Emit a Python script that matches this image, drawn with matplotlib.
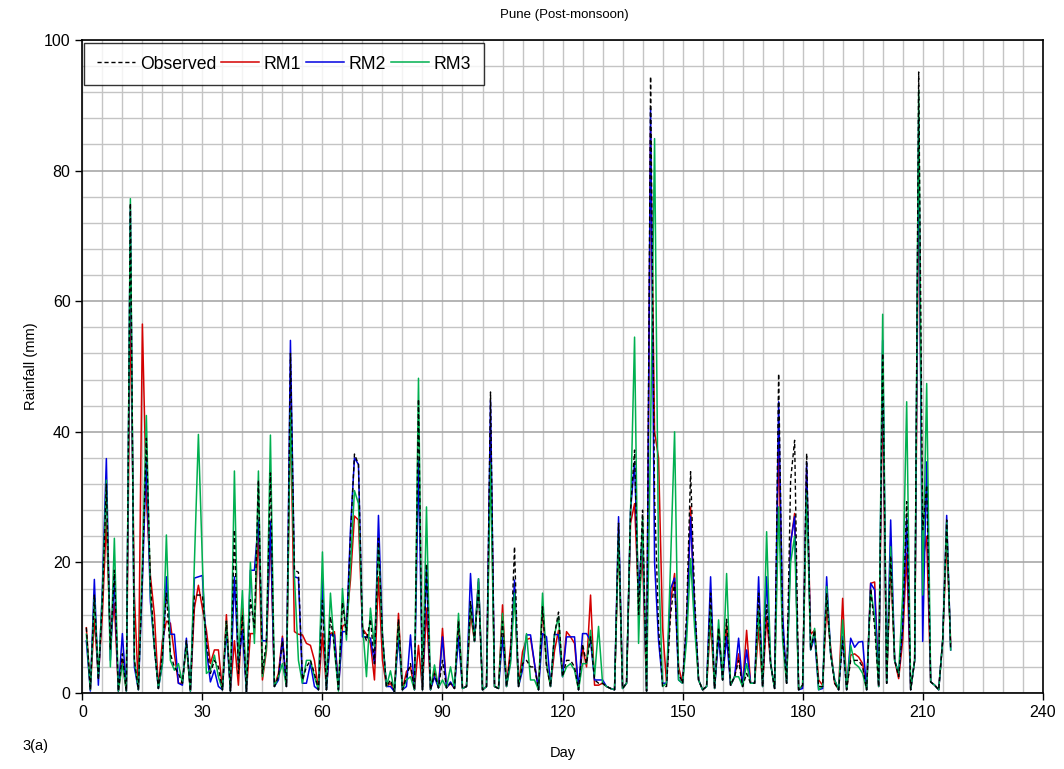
import numpy as np
import matplotlib.pyplot as plt
from matplotlib.ticker import MultipleLocator

plt.rcParams['font.family'] = ['Liberation Sans', 'DejaVu Sans']

# Daily rainfall (mm), days 1..217
observed = [
    10, 0.5, 15, 2, 14, 32, 6.6, 18.8, 0.3, 6, 0.3, 75, 5, 0.5, 18, 39, 17, 7, 0.7, 6,
    15.3, 6, 4, 3, 1.5, 8, 0.3, 15, 15, 15,
    8, 3, 5, 4, 0.5, 11, 0.3, 25, 3, 12, 0.2, 14.3, 10, 32.6, 3, 8, 33.7, 1, 2.5, 8,
    1, 52, 18.8, 18.5, 2, 4, 5, 3, 0.5, 14.2,
    0.5, 11.7, 7, 0.5, 13.9, 9, 24, 36.6, 35, 9.9, 8, 11.3, 4.5, 23.7, 8.7, 1, 2, 0.2, 11.3, 0.5,
    2.5, 4.5, 0.5, 45, 0.5, 19.8, 0.5, 3, 0.8, 5,
    0.8, 1.5, 0.7, 11, 0.7, 1, 14, 8, 16, 0.5, 1, 46.1, 1, 0.7, 11, 1, 6, 22.4, 1, 4.5,
    5, 4, 4, 0.5, 13.2, 4, 1, 9, 12.4, 2.5,
    5, 5, 4, 0.5, 7.5, 4.5, 8.6, 2, 1.5, 1.5, 1, 0.7, 0.5, 26, 0.7, 1.5, 28, 37.2, 12, 28,
    0.3, 94.4, 30, 10, 1, 1, 12, 17, 3, 1.5,
    12, 33.9, 14.7, 2, 0.5, 1, 15.3, 0.7, 10, 2, 11.3, 1.2, 2.5, 5, 1, 3, 1.5, 1.5, 15.3, 1,
    13.5, 4.5, 0.7, 48.9, 10, 1.5, 32.6, 38.7, 0.5, 1.2,
    36.7, 6.6, 9.6, 1, 1, 15.3, 6, 1.5, 0.5, 8, 0.5, 5, 5, 5, 4, 0.5, 16, 10, 1, 52,
    1.5, 21, 5, 2.5, 10, 29.3, 0.5, 5, 95.1, 25, 31.8, 1.7, 1.2, 0.5, 8, 26.5, 6.6,
]
rm1 = [
    10, 0.5, 11.4, 2.5, 12, 26.5, 8, 13.7, 0.3, 5, 0.3, 60, 15, 0.5, 56.5, 30, 18, 12, 0.7, 8,
    11, 10.7, 6, 1.5, 1.5, 7.5, 0.3, 13, 16.5, 13,
    9.6, 4.5, 6.6, 6.6, 0.5, 12, 0.3, 8, 1.2, 13, 0.2, 9.1, 9.1, 25, 2, 6.5, 25, 1, 3, 8.7,
    1, 43.8, 9.4, 9, 8.9, 7.6, 7.3, 5, 0.5, 9.1,
    0.5, 9.1, 9.4, 0.7, 10.2, 10.7, 17.3, 27.1, 26.5, 9.9, 9, 7.6, 2, 17.8, 5, 1, 1.5, 0.2, 12.2, 0.5,
    3.3, 4, 0.5, 7.3, 0.5, 13, 0.5, 3.5, 0.8, 9.9,
    0.8, 1.5, 0.7, 11.2, 0.7, 1, 12.2, 7.9, 17, 0.5, 1, 40, 1, 0.7, 13.5, 1, 7, 15.8, 1, 6.3,
    8.2, 8.4, 4.5, 0.5, 13.2, 4.5, 1, 6.5, 9.6, 3,
    9.4, 8.6, 7.6, 0.5, 7, 4, 15, 1.2, 1.2, 1.5, 1, 0.7, 0.5, 24, 0.7, 1.5, 26, 29, 14, 21,
    0.3, 86, 40, 36, 10, 1.5, 14, 18.3, 4, 1.5,
    10, 28.5, 12, 2, 0.5, 1, 11, 0.7, 9.8, 2, 10.4, 1.2, 2.5, 6, 1, 9.6, 1.5, 1.5, 10, 1,
    11.7, 4.5, 0.7, 38.5, 10, 1.5, 23, 27.5, 0.5, 1,
    34, 9, 9.6, 2, 1.2, 13.2, 7, 1.5, 0.5, 14.5, 0.5, 5.8, 6, 5.5, 4.5, 0.5, 16.8, 17, 1, 47.5,
    1.5, 20, 5, 2.2, 8, 21.4, 0.5, 5, 80, 20, 24, 1.7, 1.2, 0.5, 8, 23.6, 7.6,
]
rm2 = [
    8, 0.3, 17.4, 1.2, 16, 35.9, 5, 17.8, 0.3, 9.1, 0.3, 74, 4, 0.5, 17, 36, 14, 7, 0.7, 4.5,
    17.8, 9, 9, 1.5, 1.2, 8.4, 0.3, 17.6, 17.8, 18,
    6.6, 1.7, 3.5, 1, 0.5, 9.6, 0.3, 17.8, 4.5, 9.6, 0.2, 18.8, 18.8, 26.5, 8, 8, 26.3, 1, 2, 8.4,
    1, 54, 17.8, 17.6, 1.5, 1.5, 4.5, 1, 0.5, 17.6,
    0.5, 8.9, 8.9, 0.5, 9.4, 9.4, 25, 36, 35, 8.6, 8.6, 8.4, 4.5, 27.2, 8.7, 1, 1, 0.2, 8.6, 0.5,
    1, 8.9, 0.5, 35.7, 0.5, 19.3, 0.5, 2.5, 0.8, 8.6,
    0.8, 1.7, 0.7, 8.6, 0.7, 1, 18.3, 7.9, 17.5, 0.5, 1, 44.8, 1, 0.7, 8.6, 1, 5, 17.3, 1, 3.5,
    8.9, 8.9, 4.5, 0.5, 9.1, 8.6, 1, 9, 8.9, 2.5,
    8.6, 8.6, 8.6, 0.5, 9.1, 9.1, 8, 2, 2, 2, 1, 0.7, 0.5, 27, 0.7, 1.5, 28, 35.4, 15, 25,
    0.3, 89.5, 20, 8, 1.5, 1.5, 16, 17.6, 2, 1.5,
    10, 27, 13, 2, 0.5, 1, 17.8, 0.7, 8.6, 2, 8.6, 1.2, 2.5, 8.4, 1, 6.6, 1.5, 1.5, 17.8, 1,
    17.8, 4.5, 0.7, 44.6, 12, 1.5, 23, 27, 0.5, 0.7,
    35.4, 6.6, 8.6, 0.5, 0.7, 17.8, 6, 2, 0.5, 8.7, 0.5, 8.4, 7, 7.8, 7.9, 0.5, 16.8, 15.8, 1, 54,
    1.5, 26.5, 5, 3, 10, 26.7, 0.5, 5, 88, 7.9, 35.4, 1.7, 1.2, 0.5, 8, 27.2, 6.6,
]
rm3 = [
    9, 0.5, 14.7, 2.5, 15, 32.6, 4, 23.7, 0.3, 4.5, 0.3, 75.7, 5, 0.5, 20, 42.5, 15, 7, 0.7, 4.5,
    24.2, 5, 3.5, 4.5, 1.5, 7.6, 0.3, 20, 39.6, 20,
    3, 3.5, 5.8, 2.5, 0.5, 11, 0.3, 34, 4.5, 15.7, 0.2, 20, 7.6, 34, 2.5, 7, 39.5, 1, 2.5, 4.5,
    1, 43.3, 17.8, 5, 1.5, 5, 5, 2.5, 0.5, 21.6,
    0.5, 15.3, 6.6, 0.3, 16, 8.1, 19.7, 31, 29, 10.7, 2.5, 13, 7, 22.4, 8.7, 1, 3.4, 0.2, 10.6, 0.5,
    2, 2.5, 0.5, 48.2, 0.5, 28.5, 0.5, 4.3, 0.8, 2,
    0.8, 4, 0.7, 12.2, 0.7, 1, 13.7, 7.9, 17.5, 0.5, 1, 35.2, 1, 0.7, 12.2, 1, 4.5, 15.3, 1, 4.5,
    9.1, 2, 2, 0.5, 15.3, 4.5, 1, 9, 11.7, 2.5,
    4, 4.5, 3.5, 0.5, 4.5, 4.5, 9.6, 2.5, 10.2, 1.5, 1, 0.7, 0.5, 24.4, 0.7, 1.5, 28, 54.5, 7.6, 27,
    0.3, 40, 84.9, 20, 1, 1.5, 20, 40, 2, 1.5,
    8, 20.6, 10, 2, 0.5, 1, 13, 0.7, 11.2, 2, 18.3, 1.2, 2.5, 2.5, 1, 4.5, 1.5, 1.5, 12.7, 1,
    24.7, 4.5, 0.7, 28.5, 8, 1.5, 20, 24, 0.5, 1.2,
    31, 6.6, 9.9, 0.5, 1, 16.3, 6, 2, 0.5, 11.2, 0.5, 7.3, 4.5, 4, 3, 0.5, 15.8, 11.7, 1, 58,
    1.5, 22.4, 5, 3, 15, 44.6, 0.5, 5, 92.3, 15, 47.4, 1.7, 1.2, 0.5, 8, 26.2, 6.6,
]
days = np.arange(1, len(observed) + 1)

fig = plt.figure(figsize=(10.64, 7.69), dpi=100)
ax = fig.add_axes([0.0774, 0.0988, 0.9026, 0.8492])

ax.plot(days, observed, color='black', linestyle=(0, (3, 2)), lw=1.0, label='Observed', zorder=5)
ax.plot(days, rm1, color='#D40000', lw=1.1, label='RM1', zorder=3)
ax.plot(days, rm2, color='#0000E0', lw=1.1, label='RM2', zorder=4)
ax.plot(days, rm3, color='#00B050', lw=1.1, label='RM3', zorder=4)

ax.set_xlim(0, 240)
ax.set_ylim(0, 100)
ax.xaxis.set_major_locator(MultipleLocator(30))
ax.xaxis.set_minor_locator(MultipleLocator(5))
ax.yaxis.set_major_locator(MultipleLocator(20))
ax.yaxis.set_minor_locator(MultipleLocator(4))
ax.grid(which='minor', color='#c4c4c4', lw=1.0)
ax.grid(which='major', axis='x', color='#c4c4c4', lw=1.0)
ax.grid(which='major', axis='y', color='#a8a8a8', lw=1.2)
ax.set_axisbelow(True)
ax.tick_params(which='major', direction='out', length=5, labelsize=11.5, width=1)
ax.tick_params(which='minor', length=0)
for s in ax.spines.values():
    s.set_linewidth(1.2)

ax.set_xlabel('Day', fontsize=10.5, labelpad=19)
ax.set_ylabel('Rainfall (mm)', fontsize=10.5, labelpad=4)
fig.text(0.53, 1 - 15 / 769, 'Pune (Post-monsoon)', ha='center', va='center', fontsize=9.5)
fig.text(35 / 1064, 1 - 746 / 769, '3(a)', ha='center', va='center', fontsize=10.5)

leg = ax.legend(loc='upper left', bbox_to_anchor=(0.002, 0.995), ncol=4, fontsize=12.7,
                frameon=True, fancybox=False, borderaxespad=0, handlelength=2.15,
                columnspacing=0.25, handletextpad=0.3, borderpad=0.7)
leg.get_frame().set_edgecolor('black')
leg.get_frame().set_linewidth(1.0)

fig.savefig('out.png', dpi=100)
